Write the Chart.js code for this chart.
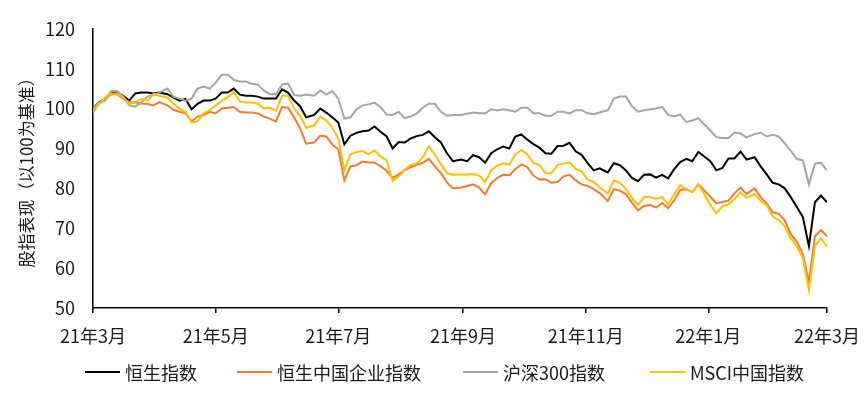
<!DOCTYPE html>
<html lang="zh-CN">
<head>
    <meta charset="UTF-8">
    <title>股指表现</title>
    <script src="https://cdn.jsdelivr.net/npm/chart.js"></script>
    <style>
        body {
            margin: 0;
            background: #fff;
            font-family: "Noto Sans CJK SC", "Noto Sans", sans-serif;
        }
        .wrap {
            position: relative;
            width: 864px;
            height: 398px;
        }
        #legend {
            position: absolute;
            left: 0;
            top: 360px;
            width: 864px;
            height: 24px;
            font-size: 18px;
            color: #1a1a1a;
            white-space: nowrap;
        }
        .legend-item {
            position: absolute;
            top: 0;
            height: 24px;
            display: flex;
            align-items: center;
        }
        .legend-line {
            width: 35px;
            height: 2px;
            margin-right: 5px;
        }
    </style>
</head>
<body>

<div class="wrap">
    <canvas id="indexChart" width="864" height="398"></canvas>
    <div id="legend"></div>
</div>

<script>
    // x 轴：距 2021-03-01 的天数
    const tickDays = [0, 61, 122, 184, 245, 306, 365];
    const tickLabels = ['21年3月', '21年5月', '21年7月', '21年9月', '21年11月', '22年1月', '22年3月'];

    const seriesNames = ['恒生指数', '恒生中国企业指数', '沪深300指数', 'MSCI中国指数'];

    const hsi = [
        100, 101.6, 102.4, 104, 104, 103.2, 102, 103.8, 104, 104, 103.8, 104, 103.6, 102.8, 102, 102.4, 99.8, 101.2, 102, 102, 102.5,
        104, 104, 105, 103.5, 103.2, 103.2, 103, 102.5, 102.5, 102.5, 104.8, 104, 102, 100.6, 97.8, 98.4, 100, 99, 97.8, 96.5,
        91, 93.2, 93.9, 94.3, 94.5, 95.5, 94.2, 93, 90, 91.6, 91.5, 92.5, 93.1, 93.4, 94.3, 92.8, 91.5, 88.8, 86.8, 87.2,
        86.8, 88.3, 87.8, 86.4, 88.8, 89.8, 90.5, 90, 93, 93.5, 92.2, 91.1, 90.2, 88.8, 88.7, 90.6, 90.7, 91.4, 89.3, 88.4,
        86.3, 84.5, 85, 84, 86.3, 85.8, 84.5, 82.6, 81.8, 83.4, 83.5, 82.7, 83.4, 82.5, 84.8, 86.6, 87.4, 86.8, 89.1, 88,
        86.8, 84.5, 85.1, 87.5, 87.5, 89.2, 87.2, 87.8, 85.5, 83.5, 81.4, 81, 80, 77.8, 75.3, 72.8, 65.5, 76.5, 78.2, 76.5
    ];
    const hscei = [
        100, 101.2, 102.4, 103.6, 103.6, 102.4, 101.6, 101.6, 101.2, 101.2, 100.8, 101.6, 100.8, 99.7, 99.2, 98.8, 96.8, 98, 98.4, 99.2, 98.8,
        100, 100.2, 100.4, 99.2, 99, 99, 98.8, 98, 97.4, 96.8, 100.4, 100.2, 97.8, 95, 91.2, 91.5, 93.2, 93, 91, 89.8,
        82, 85.5, 85.8, 86.7, 86.5, 86.5, 85.5, 84.4, 82.6, 83.5, 84.6, 85.3, 85.9, 86.4, 87.4, 85.5, 83.8, 81.5, 80, 80.2,
        80.6, 81, 80.2, 78.5, 81.3, 82.6, 83.4, 83.3, 84.8, 86, 85.3, 83.2, 82.2, 82.3, 81.4, 81.6, 83, 83.4, 82, 81,
        80.6, 79.8, 78.8, 76.8, 79.8, 79.4, 78.5, 76.4, 74.5, 75.6, 75.8, 75.2, 76.3, 75, 77, 79.6, 79.8, 79, 81, 79.5,
        77.9, 76.2, 76.6, 76.9, 78.8, 80.2, 78.6, 80, 77.8, 76.2, 74, 73.6, 72, 68.5, 66.6, 63.5, 56.5, 68, 69.5, 68
    ];
    const csi300 = [
        100, 101.5, 102, 104.4, 104.4, 103, 100.8, 100.5, 101.5, 103, 103.5, 104, 105, 103, 102.5, 102, 102.5, 105, 105.5, 105, 106.5,
        108.5, 108.5, 107.2, 106.8, 106.8, 106.2, 106, 104.5, 103.6, 103.6, 106, 106.3, 103.4, 103.2, 103.5, 103.2, 104.5, 103.5, 104.4, 102.5,
        97.5, 97.8, 99.8, 100.8, 101, 101.5, 100.4, 98.5, 98.4, 99.2, 97.6, 98, 98.8, 100.2, 101.2, 101.2, 99.2, 98.2, 98.4, 98.4,
        98.7, 99, 98.8, 98.8, 99.8, 99.5, 99.8, 99.6, 99.2, 100.2, 100.2, 98.8, 98.8, 98.2, 98.2, 99.2, 99.2, 98.8, 99.6, 99.6,
        98.8, 98.6, 99, 99.6, 102.5, 103, 103, 100.6, 99.2, 99.6, 99.8, 100, 100.4, 98.4, 98, 98.5, 96.6, 97, 97.6, 96,
        94.5, 92.8, 92.6, 92.6, 94, 93.8, 92.8, 93.6, 94, 93, 93.4, 93, 91.3, 89.4, 87.4, 87, 81, 86.2, 86.4, 84.5
    ];
    const msci = [
        99, 101.2, 102.8, 103.8, 103.8, 102.8, 101.2, 101.6, 102.4, 102, 103.6, 103.2, 102.8, 101.2, 100, 99.2, 96.5, 96.8, 98.8, 99.6, 100.8,
        102, 102.8, 104.2, 101.8, 101.5, 101.5, 101.2, 100, 100.2, 99.4, 103.2, 103.2, 100, 98.2, 95.2, 95.8, 98, 97, 95.2, 92.5,
        84.5, 88.5, 89.1, 89.4, 88.5, 89.5, 88, 87, 81.8, 83, 84.6, 85.9, 86.2, 87.8, 90.5, 88.5, 86, 83.8, 83.4, 83.5,
        83.5, 83.6, 83.2, 81.6, 84.5, 85.7, 86.3, 85.9, 88.5, 89.6, 88.5, 86.3, 85.9, 83.8, 83.8, 85.9, 86.2, 86.5, 84.9, 84.2,
        82.2, 81.6, 80.2, 78.7, 82, 81.4, 79.8, 77.6, 75.8, 77.8, 77.8, 77.4, 77.8, 76, 78.5, 80.8, 79.8, 79, 81, 78.5,
        75.8, 73.8, 75.5, 76, 77.3, 79, 77.6, 78.6, 76.8, 75.8, 73, 72, 70.5, 67.5, 65.5, 62.5, 54.5, 65.5, 67.5, 65.3
    ];

    const colors = ['#000000', '#ED7D31', '#A5A5A5', '#FFC000'];
    const allSeries = [hsi, hscei, csi300, msci];
    const legendLeft = [85, 237, 463, 650];

    // 采样点大约每 3 天一个
    const lastDay = tickDays[tickDays.length - 1];
    const sampleDays = hsi.map((_, i) => Math.round(i * lastDay / (hsi.length - 1)));

    const fontFamily = '"Noto Sans CJK SC", "Noto Sans", sans-serif';
    const textColor = '#1a1a1a';

    const datasets = allSeries.map((values, k) => ({
        label: seriesNames[k],
        data: values.map((v, i) => ({ x: sampleDays[i], y: v })),
        borderColor: colors[k],
        backgroundColor: colors[k],
        borderWidth: 2,
        pointRadius: 0,
        tension: 0,
        order: allSeries.length - k
    }));

    new Chart(document.getElementById('indexChart').getContext('2d'), {
        type: 'line',
        data: { datasets: datasets },
        options: {
            responsive: false,
            animation: false,
            layout: { padding: { left: 0, right: 37, top: 19, bottom: 50 } },
            plugins: {
                legend: { display: false },
                tooltip: { enabled: false }
            },
            scales: {
                x: {
                    type: 'linear',
                    min: 0,
                    max: lastDay,
                    afterBuildTicks: scale => {
                        scale.ticks = tickDays.map(d => ({ value: d }));
                    },
                    afterFit: scale => {
                        scale.height = 40;
                        scale.paddingLeft = 0;
                        scale.paddingRight = 0;
                    },
                    ticks: {
                        autoSkip: false,
                        maxRotation: 0,
                        padding: 12,
                        color: textColor,
                        font: { family: fontFamily, size: 18 },
                        callback: (value, index) => tickLabels[index]
                    },
                    grid: {
                        drawOnChartArea: false,
                        drawTicks: true,
                        tickLength: 5,
                        color: '#000',
                        lineWidth: 1.5
                    },
                    border: { display: true, color: '#000', width: 1.5 }
                },
                y: {
                    min: 50,
                    max: 120,
                    afterFit: scale => { scale.width = 93; },
                    ticks: {
                        stepSize: 10,
                        padding: 18,
                        color: textColor,
                        font: { family: fontFamily, size: 18 }
                    },
                    grid: { display: false, drawTicks: false },
                    border: { display: true, color: '#000', width: 1.5 },
                    title: {
                        display: true,
                        text: '股指表现（以100为基准）',
                        color: textColor,
                        font: { family: fontFamily, size: 17 },
                        padding: { top: 16, bottom: 0 }
                    }
                }
            }
        }
    });

    const legendEl = document.getElementById('legend');
    seriesNames.forEach((name, k) => {
        const item = document.createElement('div');
        item.className = 'legend-item';
        item.style.left = legendLeft[k] + 'px';
        const line = document.createElement('span');
        line.className = 'legend-line';
        line.style.background = colors[k];
        const text = document.createElement('span');
        text.textContent = name;
        item.appendChild(line);
        item.appendChild(text);
        legendEl.appendChild(item);
    });
</script>

</body>
</html>
